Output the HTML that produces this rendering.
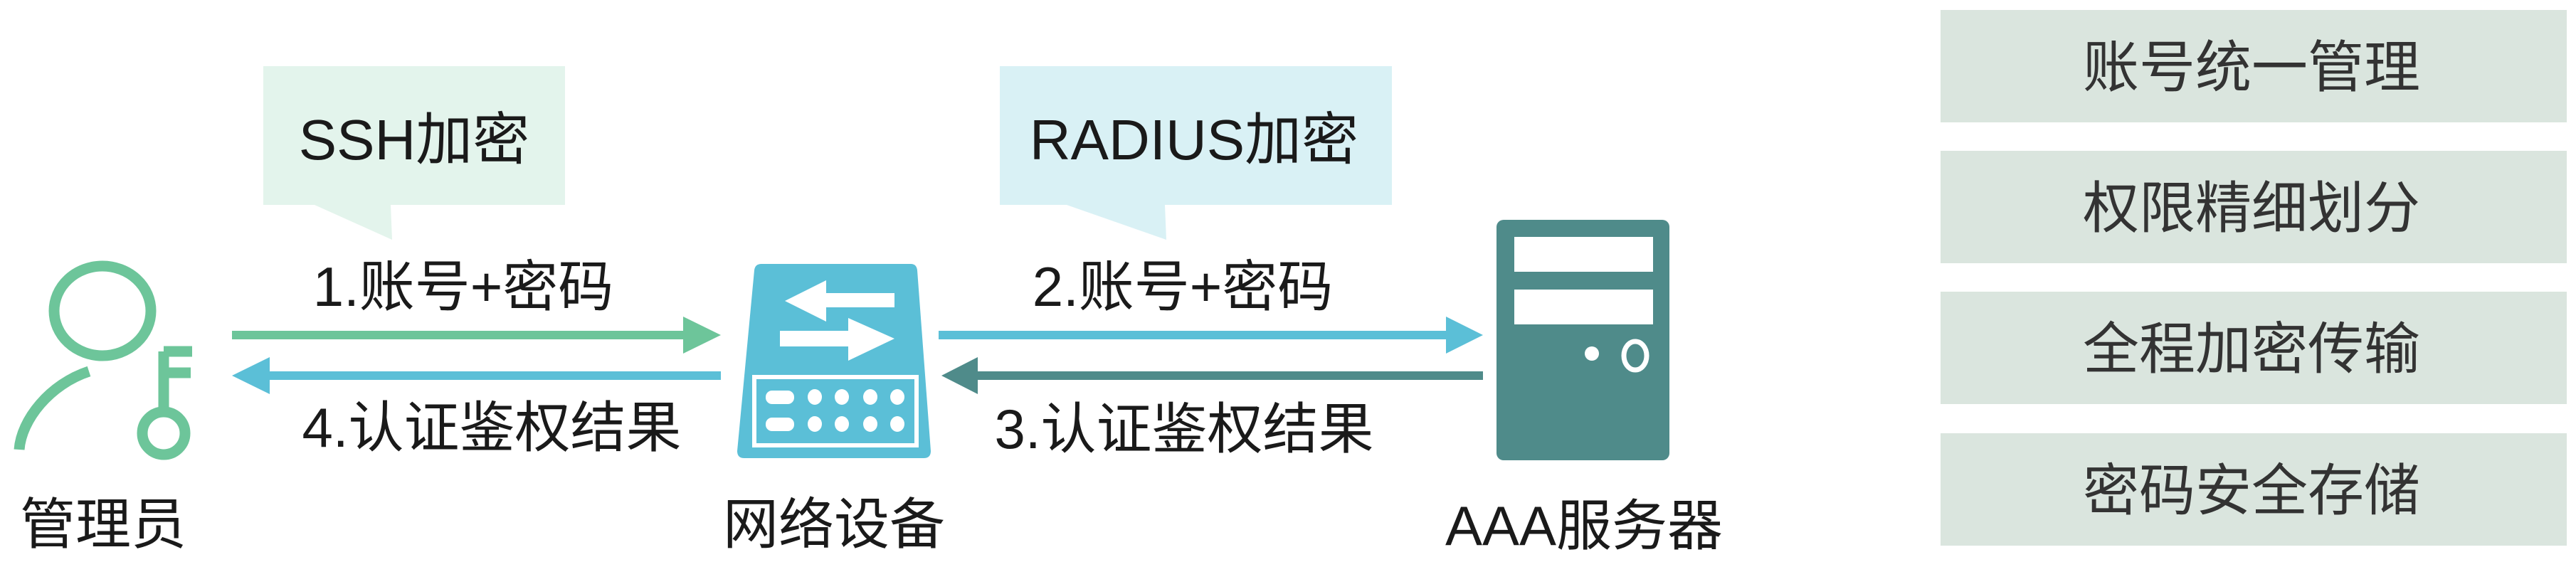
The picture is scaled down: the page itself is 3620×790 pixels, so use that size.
<!DOCTYPE html>
<html><head><meta charset="utf-8"><style>
html,body{margin:0;padding:0;background:#fff;}
svg{display:block;}
text{font-family:"Liberation Sans","Noto Sans CJK SC",sans-serif;fill:#1a1a1a;}
</style></head><body>
<svg width="3620" height="790" viewBox="0 0 3620 790" xmlns="http://www.w3.org/2000/svg">
<!-- SSH bubble -->
<path d="M370 93 H794 V288 H549 L551 337 L442 288 H370 Z" fill="#e3f4ec"/>
<text x="582" y="224" font-size="80" text-anchor="middle">SSH加密</text>
<!-- RADIUS bubble -->
<path d="M1405 93 H1956 V288 H1637 L1639 337 L1499 288 H1405 Z" fill="#d9f1f5"/>
<text x="1678" y="224" font-size="80" text-anchor="middle">RADIUS加密</text>

<!-- person icon -->
<g fill="none" stroke="#6dc59a" stroke-width="15">
<ellipse cx="144" cy="437" rx="68" ry="63"/>
<path d="M125 522 C70 540 30 590 27 632"/>
<line x1="230" y1="494" x2="230" y2="575"/>
<line x1="230" y1="494" x2="270" y2="494"/>
<line x1="230" y1="524" x2="268" y2="524"/>
<circle cx="230" cy="609" r="30"/>
</g>
<text x="145" y="764" font-size="78" text-anchor="middle">管理员</text>

<!-- arrows left -->
<rect x="326" y="465" width="640" height="12" fill="#6dc59a"/>
<polygon points="960,445 1013,471 960,497" fill="#6dc59a"/>
<text x="651" y="430" font-size="78" text-anchor="middle">1.账号+密码</text>
<rect x="375" y="522" width="638" height="12" fill="#5bbfd7"/>
<polygon points="379,502 326,528 379,554" fill="#5bbfd7"/>
<text x="691" y="628" font-size="78" text-anchor="middle">4.认证鉴权结果</text>

<!-- network device -->
<path d="M1070 371 H1280 Q1288 371 1289 380 L1308 634 Q1308 644 1298 644 H1046 Q1036 644 1036 634 L1060 380 Q1061 371 1070 371 Z" fill="#5bbfd7"/>
<rect x="1060" y="530" width="228" height="96" fill="none" stroke="#fff" stroke-width="6"/>
<rect x="1076" y="549" width="40" height="19" rx="9" fill="#fff"/>
<rect x="1076" y="587" width="40" height="19" rx="9" fill="#fff"/>
<g fill="#fff">
<ellipse cx="1145" cy="558" rx="10" ry="11"/><ellipse cx="1183" cy="558" rx="10" ry="11"/><ellipse cx="1223" cy="558" rx="10" ry="11"/><ellipse cx="1261" cy="558" rx="10" ry="11"/>
<ellipse cx="1145" cy="596" rx="10" ry="11"/><ellipse cx="1183" cy="596" rx="10" ry="11"/><ellipse cx="1223" cy="596" rx="10" ry="11"/><ellipse cx="1261" cy="596" rx="10" ry="11"/>
<polygon points="1103,423 1161,394 1161,412 1257,412 1257,432 1161,432 1161,452"/>
<polygon points="1257,476 1192,447 1192,465 1096,465 1096,487 1192,487 1192,507"/>
</g>
<text x="1172" y="764" font-size="78" text-anchor="middle">网络设备</text>

<!-- arrows right -->
<rect x="1319" y="465" width="716" height="12" fill="#5bbfd7"/>
<polygon points="2032,445 2084,471 2032,497" fill="#5bbfd7"/>
<text x="1662" y="430" font-size="78" text-anchor="middle">2.账号+密码</text>
<rect x="1370" y="522" width="714" height="12" fill="#4f8b8a"/>
<polygon points="1374,502 1323,528 1374,554" fill="#4f8b8a"/>
<text x="1664" y="630" font-size="78" text-anchor="middle">3.认证鉴权结果</text>

<!-- server -->
<rect x="2103" y="309" width="243" height="338" rx="10" fill="#4f8b8a"/>
<rect x="2128" y="333" width="195" height="49" fill="#fff"/>
<rect x="2128" y="407" width="195" height="49" fill="#fff"/>
<circle cx="2237" cy="497" r="10" fill="#fff"/>
<ellipse cx="2298" cy="500" rx="16" ry="20" fill="none" stroke="#fff" stroke-width="7"/>
<text x="2226" y="766" font-size="78" text-anchor="middle">AAA服务器</text>

<!-- right boxes -->
<g fill="#dae5de">
<rect x="2727" y="14" width="880" height="158"/>
<rect x="2727" y="212" width="880" height="158"/>
<rect x="2727" y="410" width="880" height="158"/>
<rect x="2727" y="609" width="880" height="158"/>
</g>
<g font-size="79" text-anchor="middle">
<text x="3164" y="122" style="fill:#333">账号统一管理</text>
<text x="3164" y="320" style="fill:#333">权限精细划分</text>
<text x="3164" y="518" style="fill:#333">全程加密传输</text>
<text x="3164" y="717" style="fill:#333">密码安全存储</text>
</g>
</svg>
</body></html>
